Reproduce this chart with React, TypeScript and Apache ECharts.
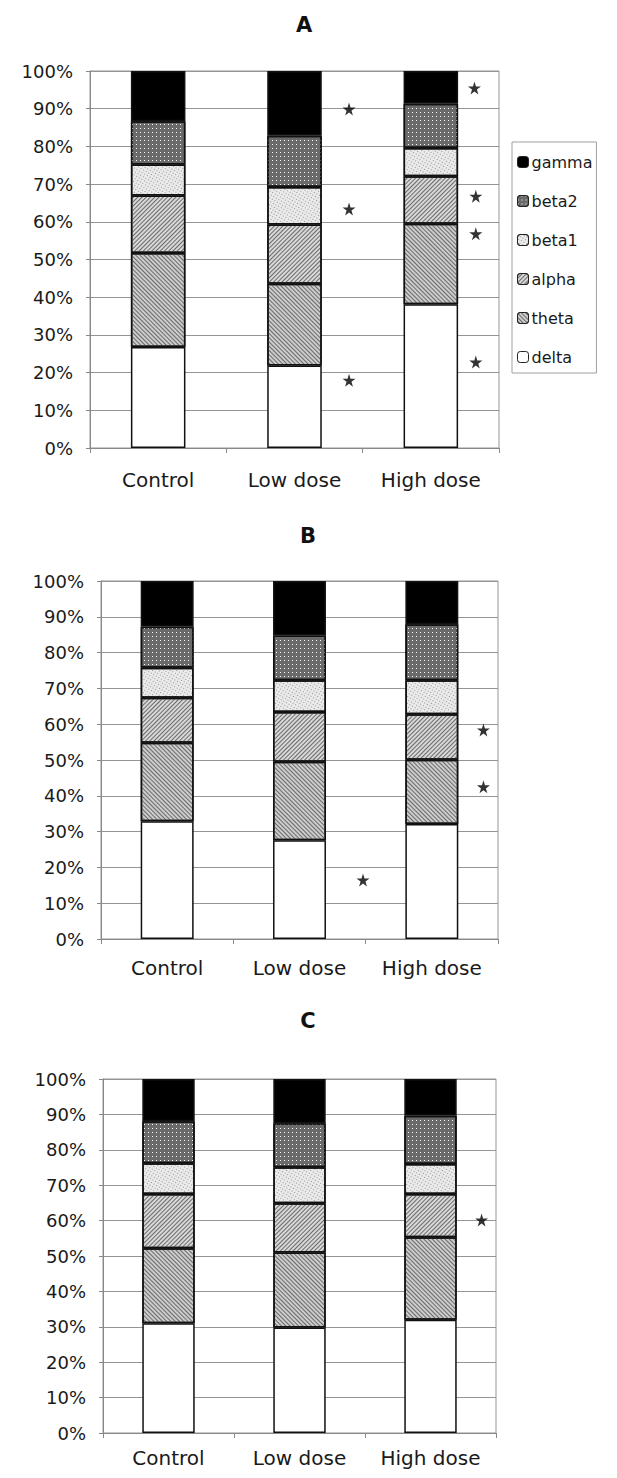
import React, { useEffect, useRef } from "react";
import * as echarts from "echarts";

const categories = ["Control", "Low dose", "High dose"];
const panelTitles = ["A", "B", "C"];
const bandNames = ["delta", "theta", "alpha", "beta1", "beta2", "gamma"];
const legendOrder = ["gamma", "beta2", "beta1", "alpha", "theta", "delta"];
const yTicks = [0, 10, 20, 30, 40, 50, 60, 70, 80, 90, 100];

// values per panel (A, B, C), each [Control, Low dose, High dose], in %
const delta = [[26.8, 21.9, 38.1], [32.9, 27.6, 32.1], [31.0, 29.8, 32.0]];
const theta = [[24.9, 21.7, 21.4], [21.9, 21.9, 18.0], [21.2, 21.2, 23.3]];
const alpha = [[15.3, 15.7, 12.6], [12.6, 13.9, 12.7], [15.3, 13.9, 12.2]];
const beta1 = [[8.2, 9.9, 7.5], [8.4, 8.9, 9.5], [8.7, 10.2, 8.5]];
const beta2 = [[11.5, 13.6, 11.7], [11.4, 12.5, 15.6], [11.9, 12.4, 13.6]];
const gamma = [[13.3, 17.2, 8.7], [12.8, 15.2, 12.1], [11.9, 12.5, 10.4]];

// significance stars: [x in category units from left edge, y in %]
const starsA = [[1.9, 89.9], [1.9, 63.4], [1.9, 18.0], [2.82, 95.5], [2.83, 66.8], [2.83, 56.8], [2.83, 22.8]];
const starsB = [[1.98, 16.5], [2.89, 58.4], [2.89, 42.5]];
const starsC = [[2.89, 60.2]];

const FONT = "DejaVu Sans";
const STAR = "path://M50,0 L61,35 L98,35 L68,57 L79,91 L50,70 L21,91 L32,57 L2,35 L39,35 Z";

const bandStyle: Record<string, any> = {
  delta: { color: "#ffffff" },
  theta: {
    color: "#cccccc",
    decal: { symbol: "rect", symbolSize: 1, color: "#6a6a6a", dashArrayX: [1, 0], dashArrayY: [1, 2], rotation: Math.PI / 4 },
  },
  alpha: {
    color: "#d8d8d8",
    decal: { symbol: "rect", symbolSize: 1, color: "#6a6a6a", dashArrayX: [1, 0], dashArrayY: [1, 2], rotation: -Math.PI / 4 },
  },
  beta1: {
    color: "#eaeaea",
    decal: { symbol: "rect", symbolSize: 1, color: "#959595", dashArrayX: [1, 2], dashArrayY: [1, 2], rotation: Math.PI / 6 },
  },
  beta2: {
    color: "#6a6a6a",
    decal: { symbol: "rect", symbolSize: 1, color: "#ffffff", dashArrayX: [1, 3], dashArrayY: [1, 3] },
  },
  gamma: { color: "#000000" },
};

const bandData: Record<string, number[][]> = { delta, theta, alpha, beta1, beta2, gamma };
const starData = [starsA, starsB, starsC];

const grids = [
  { left: 82, top: 63, width: 409, height: 377 },
  { left: 93, top: 573, width: 397, height: 358 },
  { left: 95, top: 1071, width: 393, height: 354 },
];
const titlePos = [
  { left: 291, top: 1 },
  { left: 295, top: 512 },
  { left: 295, top: 997 },
];
const labelMargin = [22, 19, 15];

export default function App() {
  const ref = useRef<HTMLDivElement>(null);
  useEffect(() => {
    if (!ref.current) return;
    const chart = echarts.init(ref.current, undefined, { renderer: "svg" });
    const series: any[] = [];
    for (let p = 0; p < 3; p++) {
      for (const b of bandNames) {
        const st = bandStyle[b];
        series.push({
          type: "bar",
          name: b,
          stack: "s" + p,
          xAxisIndex: p,
          yAxisIndex: p,
          barWidth: "40%",
          data: bandData[b][p],
          itemStyle: {
            color: st.color,
            decal: st.decal,
            borderColor: "#111",
            borderWidth: 1.5,
          },
        });
      }
      series.push({
        type: "scatter",
        name: "star" + p,
        xAxisIndex: 3 + p,
        yAxisIndex: p,
        symbol: STAR,
        symbolSize: 13,
        itemStyle: { color: "#000" },
        data: starData[p],
        z: 10,
      });
    }
    const option: any = {
      animation: false,
      backgroundColor: "#ffffff",
      textStyle: { fontFamily: FONT },
      title: panelTitles.map((t, i) => ({
        text: t,
        left: titlePos[i].left,
        top: titlePos[i].top,
        textAlign: "center",
        textStyle: { fontFamily: FONT, fontSize: 21, fontWeight: "bold", color: "#111" },
      })),
      legend: {
        data: legendOrder,
        orient: "vertical",
        left: 504,
        top: 134,
        itemWidth: 11,
        itemHeight: 11,
        itemGap: 23,
        padding: [12, 4, 8, 5],
        borderColor: "#a0a0a0",
        borderWidth: 1,
        textStyle: { fontFamily: FONT, fontSize: 16, color: "#1a1a1a", padding: [0, 0, 0, -2] },
        itemStyle: { borderColor: "#222", borderWidth: 1 },
      },
      grid: grids.map((g) => ({ ...g, show: true, borderColor: "#959595", borderWidth: 1 })),
      xAxis: [
        ...grids.map((_, i) => ({
          type: "category",
          gridIndex: i,
          data: categories,
          axisLine: { lineStyle: { color: "#888", width: 1 } },
          axisTick: { show: true, length: 5, lineStyle: { color: "#888" } },
          axisLabel: { fontFamily: FONT, fontSize: 20, lineHeight: 20, color: "#1a1a1a", margin: labelMargin[i] },
        })),
        ...grids.map((_, i) => ({ type: "value", gridIndex: i, min: 0, max: 3, show: false })),
      ],
      yAxis: grids.map((_, i) => ({
        type: "value",
        gridIndex: i,
        min: yTicks[0],
        max: yTicks[yTicks.length - 1],
        interval: yTicks[1] - yTicks[0],
        axisLine: { show: true, lineStyle: { color: "#888" } },
        axisTick: { show: true, length: 4, lineStyle: { color: "#888" } },
        splitLine: { lineStyle: { color: "#959595", width: 1 } },
        axisLabel: { fontFamily: FONT, fontSize: 18, color: "#1a1a1a", margin: 17, formatter: "{value}%" },
      })),
      series,
    };
    chart.setOption(option);
    return () => chart.dispose();
  }, []);
  return <div ref={ref} style={{ width: 601, height: 1462 }} />;
}
